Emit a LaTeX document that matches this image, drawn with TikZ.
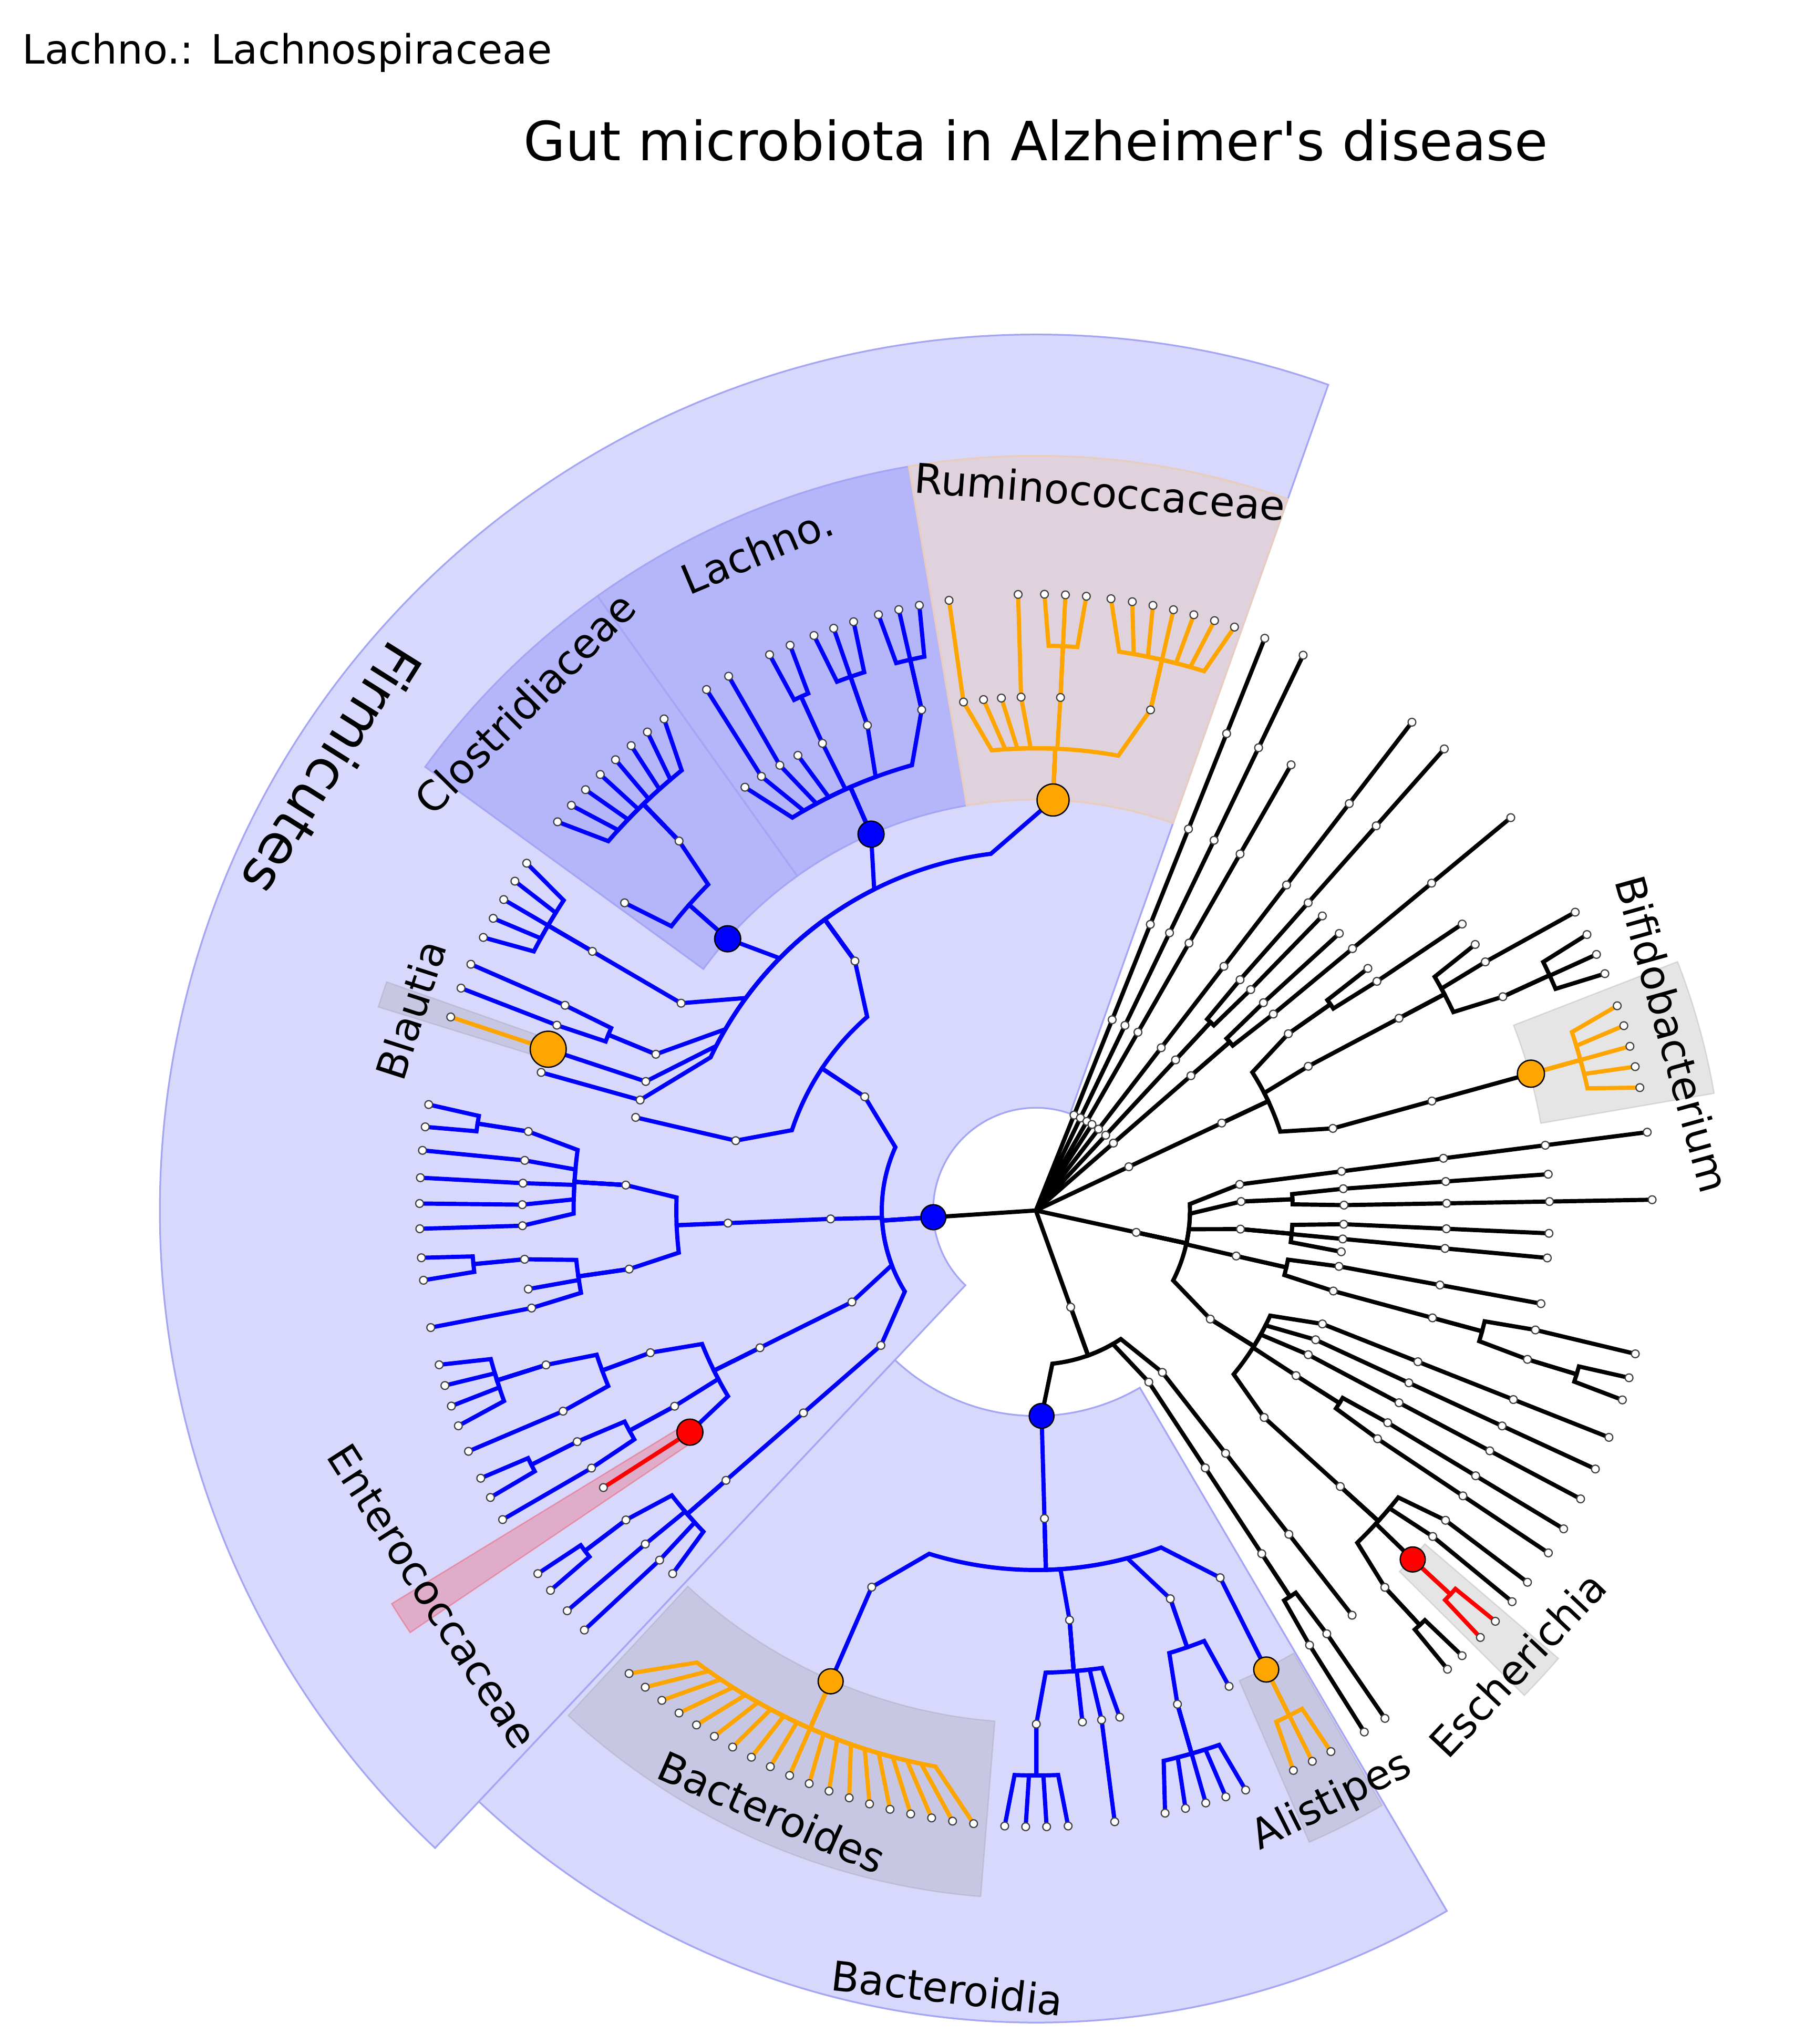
\documentclass[tikz,border=0pt]{standalone}
\usepackage{fontspec}
\setmainfont{DejaVu Sans}[Ligatures=TeXOff]
\definecolor{bl}{RGB}{0,0,255}
\definecolor{og}{RGB}{255,165,0}
\definecolor{rd}{RGB}{255,0,0}
\definecolor{wfirmc}{RGB}{216,216,252}
\definecolor{wfamc}{RGB}{181,181,250}
\definecolor{wrumc}{RGB}{224,210,220}
\definecolor{edgec}{RGB}{165,165,245}
\definecolor{edgerum}{RGB}{232,205,190}
\tikzset{
  br/.style={line width=3.2pt},
  mkr/.style={fill=white, draw=black!75, line width=0.9pt},
  wfirm/.style={fill=wfirmc, draw=edgec, line width=1.3pt},
  wfam/.style={fill=wfamc, draw=edgec, line width=1.3pt},
  wrum/.style={fill=wrumc, draw=edgerum, line width=1.3pt},
  hgrey/.style={fill=black!45, fill opacity=0.22, draw=black!45, draw opacity=0.25, line width=1pt},
  hred/.style={fill=red, fill opacity=0.2, draw=red, draw opacity=0.25, line width=1pt},
  lab/.style={font=\fontsize{31.5}{37}\selectfont, inner sep=0pt},
  biglab/.style={font=\fontsize{42.5}{50}\selectfont, inner sep=0pt}
}
% annular sector: style, a1, a2, r1, r2
\newcommand\sector[5]{\path[#1] (#2:#4) arc[start angle=#2, end angle=#3, radius=#4] -- (#3:#5) arc[start angle=#3, end angle=#2, radius=#5] -- cycle;}
% branch from parent (angle, level) to child (angle, level)
\newcommand\branchline[5]{%
  \pgfmathsetmacro\rpar{78.8*(#3)}%
  \pgfmathsetmacro\rchi{78.8*(#5)}%
  \pgfmathsetmacro\rbra{78.8*(#3)+39.4}%
  \pgfmathsetmacro\tarc{(#2)+0.75*((#4)-(#2))}%
  \pgfmathtruncatemacro\flagz{abs(\tarc-(#2))<0.02 ? 1 : 0}%
  \ifnum\flagz=1
    \draw[br,#1] (#2:\rpar) -- (#4:\rchi);
  \else
    \draw[br,#1] (#2:\rpar) -- (#2:\rbra) arc[start angle=#2, end angle=\tarc, radius=\rbra] -- (#4:\rchi);
  \fi}
\newcommand\CladeL[4]{\foreach \ang/\lv in {#4}{\branchline{#1}{#2}{#3}{\ang}{\lv}}}
\newcommand\ChainL[4]{\pgfmathsetmacro\rfrom{78.8*(#3)}\pgfmathsetmacro\rto{78.8*(#4)}\draw[br,#1] (#2:\rfrom) -- (#2:\rto);}
\newcommand\RootL[1]{\foreach \ang in {#1}{\draw[br,black] (0,0) -- (\ang:78.8);}}
\newcommand\mk[2]{\pgfmathsetmacro\rmk{78.8*(#2)}\path[mkr] (#1:\rmk) circle[radius=3.0];}
\newcommand\CladeM[4]{\foreach \ang/\lv in {#4}{\mk{\ang}{\lv}}}
\newcommand\ChainM[4]{\foreach \lv in {1,...,6}{\ifnum\lv>#3 \ifnum\lv<\numexpr#4+1\relax \mk{#2}{\lv}\fi\fi}}
\newcommand\RootM[1]{\foreach \ang in {#1}{\mk{\ang}{1}}}
\newcommand\bignode[4]{\pgfmathsetmacro\rmk{78.8*(#3)}\path[fill=#1, draw=black, line width=1pt] (#2:\rmk) circle[radius=#4];}

\newcommand\TreeData{%
\Root{68.2,64.3,60.2,56.9,52.4,47.15,41.0,25.2,-12.3,-70.2,183.75}
\Chain{black}{68.2}{1}{6}
\Chain{black}{64.3}{1}{6}
\Chain{black}{60.2}{1}{5}
\Chain{black}{52.4}{1}{6}
\Chain{black}{47.15}{1}{2}
\Clade{black}{47.15}{2}{48.5/3,45.8/3}
\Chain{black}{48.5}{3}{6}
\Chain{black}{45.8}{3}{4}
\Chain{black}{41.0}{1}{2}
\Clade{black}{41.0}{2}{42.4/3,39.6/3}
\Chain{black}{42.4}{3}{4}
\Chain{black}{39.6}{3}{6}
\Chain{black}{25.2}{1}{2}
\Clade{black}{25.2}{2}{35.0/3,27.9/3,15.45/3}
\Clade{black}{35.0}{3}{36.1/4,33.9/4}
\Chain{black}{33.9}{4}{5}
\Chain{black}{27.9}{3}{4}
\Clade{black}{27.9}{4}{31.2/5,28.95/5,24.6/5}
\Chain{black}{28.95}{5}{6}
\Clade{black}{24.6}{5}{26.6/6,24.55/6,22.6/6}
\Chain{black}{15.45}{3}{5}
\Clade{og}{15.45}{5}{19.4/6,17.45/6,15.45/6,13.5/6,11.5/6}
\Clade{black}{-12.3}{1}{7.3/2,2.5/2,-5.2/2,-12.8/2,-31.9/2}
\Chain{black}{7.3}{2}{6}
\Clade{black}{2.5}{2}{4.05/3,1.0/3}
\Chain{black}{4.05}{3}{5}
\Chain{black}{1.0}{3}{6}
\Clade{black}{-5.2}{2}{-2.55/3,-5.3/3,-7.7/3}
\Chain{black}{-2.55}{3}{5}
\Chain{black}{-5.3}{3}{5}
\Clade{black}{-12.8}{2}{-10.45/3,-15.15/3}
\Chain{black}{-10.45}{3}{5}
\Chain{black}{-15.15}{3}{4}
\Clade{black}{-15.15}{4}{-13.45/5,-16.85/5}
\Chain{black}{-13.45}{5}{6}
\Clade{black}{-16.85}{5}{-15.75/6,-17.9/6}
\Clade{black}{-31.9}{2}{-21.6/3,-24.8/3,-27.9/3,-32.4/3,-42.2/3}
\Chain{black}{-21.6}{3}{6}
\Chain{black}{-24.8}{3}{6}
\Chain{black}{-27.9}{3}{6}
\Clade{black}{-32.4}{3}{-31.1/4,-33.75/4}
\Chain{black}{-31.1}{4}{6}
\Chain{black}{-33.75}{4}{6}
\Chain{black}{-42.2}{3}{4}
\Clade{black}{-42.2}{4}{-37.1/5,-39.4/5,-42.8/5,-47.2/5}
\Chain{black}{-37.1}{5}{6}
\Chain{black}{-39.4}{5}{6}
\Clade{rd}{-42.8}{5}{-41.8/6,-43.85/6}
\Clade{black}{-47.2}{5}{-46.25/6,-48.1/6}
\Clade{black}{-70.2}{1}{-88.4/2,-56.65/2,-52.0/2}
\Chain{black}{-56.65}{2}{4}
\Clade{black}{-56.65}{4}{-55.5/5,-57.8/5}
\Chain{black}{-55.5}{5}{6}
\Chain{black}{-57.8}{5}{6}
\Chain{black}{-52.0}{2}{5}
\Chain{bl}{271.6}{2}{3}
\Clade{bl}{271.6}{3}{246.45/4,274.7/4,289.1/4,296.65/4}
\Chain{bl}{246.45}{4}{5}
\Clade{og}{246.45}{5}{228.70/6,230.67/6,232.64/6,234.62/6,236.59/6,238.56/6,240.53/6,242.51/6,244.48/6,246.45/6,248.42/6,250.39/6,252.37/6,254.34/6,256.31/6,258.28/6,260.26/6,262.23/6,264.20/6}
\Clade{bl}{274.7}{4}{270.05/5,275.2/5,277.35/5,279.4/5}
\Clade{bl}{270.05}{5}{267.1/6,269.05/6,271.0/6,273.0/6}
\Chain{bl}{277.35}{5}{6}
\Clade{bl}{289.1}{4}{286.0/5,292.1/5}
\Clade{bl}{286.0}{5}{282.1/6,284.05/6,286.0/6,287.95/6,289.9/6}
\Chain{bl}{296.65}{4}{5}
\Clade{og}{296.65}{5}{294.7/6,296.65/6,298.6/6}
\Clade{bl}{183.75}{1}{146.4/2,182.35/2,206.45/2,221.05/2}
\Clade{bl}{146.4}{2}{125.95/3,166.9/3}
\Clade{bl}{125.95}{3}{87.6/4,113.65/4,138.6/4,149.7/4,157.65/4,161.7/4,164.4/4}
\Chain{bl}{166.9}{3}{4}
\Clade{og}{87.6}{4}{98.1/5,95.85/5,93.85/5,91.65/5,87.25/5,77.1/5}
\Chain{og}{98.1}{5}{6}
\Chain{og}{91.65}{5}{6}
\Clade{og}{87.25}{5}{89.2/6,87.25/6,85.3/6}
\Clade{og}{77.1}{5}{83.0/6,81.0/6,79.05/6,77.1/6,75.15/6,73.15/6,71.2/6}
\Clade{bl}{113.65}{4}{124.5/5,122.3/5,119.9/5,117.6/5,114.55/5,109.15/5,102.85/5}
\Chain{bl}{122.3}{5}{6}
\Chain{bl}{119.9}{5}{6}
\Clade{bl}{114.55}{5}{115.6/6,113.5/6}
\Clade{bl}{109.15}{5}{111.1/6,109.15/6,107.2/6}
\Clade{bl}{102.85}{5}{104.8/6,102.85/6,100.9/6}
\Clade{bl}{138.6}{4}{134.0/5,143.2/5}
\Clade{bl}{134.0}{5}{127.1/6,129.07/6,131.04/6,133.0/6,134.97/6,136.94/6,138.9/6,140.9/6}
\Chain{bl}{149.7}{4}{5}
\Clade{bl}{149.7}{5}{145.7/6,147.7/6,149.7/6,151.7/6,153.7/6}
\Clade{bl}{157.65}{4}{156.45/5,158.85/5}
\Chain{bl}{156.45}{5}{6}
\Chain{bl}{158.85}{5}{6}
\Chain{bl}{161.7}{4}{5}
\Chain{og}{161.7}{5}{6}
\Chain{bl}{164.4}{4}{5}
\Chain{bl}{182.35}{2}{3}
\Clade{bl}{182.35}{3}{176.45/4,188.2/4}
\Clade{bl}{176.45}{4}{171.15/5,174.4/5,176.95/5,179.35/5,181.7/5}
\Clade{bl}{171.15}{5}{170.1/6,172.2/6}
\Chain{bl}{174.4}{5}{6}
\Chain{bl}{176.95}{5}{6}
\Chain{bl}{179.35}{5}{6}
\Chain{bl}{181.7}{5}{6}
\Clade{bl}{188.2}{4}{185.45/5,188.8/5,190.95/5}
\Clade{bl}{185.45}{5}{184.4/6,186.5/6}
\Chain{bl}{190.95}{5}{6}
\Chain{bl}{206.45}{2}{3}
\Clade{bl}{206.45}{3}{200.25/4,208.45/4,212.65/4}
\Clade{bl}{200.25}{4}{197.5/5,203.0/5}
\Clade{bl}{197.5}{5}{194.5/6,196.5/6,198.5/6,200.45/6}
\Chain{bl}{203.0}{5}{6}
\Clade{bl}{208.45}{4}{206.75/5,210.1/5}
\Clade{bl}{206.75}{5}{205.75/6,207.75/6}
\Chain{bl}{210.1}{5}{6}
\Chain{rd}{212.65}{4}{5}
\Chain{bl}{221.05}{2}{4}
\Clade{bl}{221.05}{4}{217.05/5,220.5/5,222.9/5,225.0/5}
\Clade{bl}{217.05}{5}{216.1/6,218.05/6}
\Chain{bl}{220.5}{5}{6}
\Chain{bl}{222.9}{5}{6}
}

\begin{document}
\begin{tikzpicture}[x=1pt,y=1pt]
\fill[white] (-794.6,-639.4) rectangle (597.4,928.6);
\useasboundingbox (-794.6,-639.4) rectangle (597.4,928.6);
% background wedges
\sector{wfirm}{70.5}{226.7}{78.8}{672}
\sector{wfirm}{226.7}{300.4}{157.6}{623}
\sector{wfam}{125.5}{144.0}{315.2}{579}
\sector{wfam}{99.7}{125.5}{315.2}{579}
\sector{wrum}{70.5}{99.7}{315.2}{579}
% highlights
\sector{hgrey}{160.6}{162.8}{393}{528}
\sector{hgrey}{227.2}{265.4}{393}{528}
\sector{hgrey}{293.4}{300.2}{393}{528}
\sector{hgrey}{9.8}{21.2}{393}{528}
\sector{hgrey}{315.2}{319.4}{393}{528}
\sector{hred}{211.4}{214.0}{315.2}{579}
% tree lines
\let\Clade\CladeL \let\Chain\ChainL \let\Root\RootL
\TreeData
% node markers
\let\Clade\CladeM \let\Chain\ChainM \let\Root\RootM
\TreeData
% highlighted clade nodes
\bignode{bl}{183.75}{1}{9.6}
\bignode{bl}{271.6}{2}{9.5}
\bignode{bl}{138.6}{4}{10}
\bignode{bl}{113.65}{4}{10}
\bignode{og}{87.6}{4}{12.3}
\bignode{og}{161.7}{5}{13.8}
\bignode{rd}{212.65}{4}{10}
\bignode{og}{246.45}{5}{9.6}
\bignode{og}{296.65}{5}{9.6}
\bignode{og}{15.45}{5}{10.4}
\bignode{rd}{-42.8}{5}{9.6}
% labels
\node[lab, rotate=-4.4] (lrum) at (84.9:553.8) {Ruminococcaceae};
\node[lab, rotate=22.9] (llac) at (112.9:549.8) {Lachno.};
\node[lab, rotate=45.2] (lclo) at (135.2:552.5) {Clostridiaceae};
\node[biglab, rotate=-122.1] (lfir) at (147.9:637) {Firmicutes};
\node[lab, rotate=72.2] (lbla) at (162.2:503.6) {Blautia};
\node[lab, rotate=-57.4] (lent) at (212.6:549.4) {Enterococcaceae};
\node[lab, rotate=-23.7] (lbac) at (246.3:503.9) {Bacteroides};
\node[lab, rotate=26.6] (lali) at (296.6:507.3) {Alistipes};
\node[lab, rotate=46.7] (lesc) at (316.7:507.7) {Escherichia};
\node[lab, rotate=-74.5] (lbif) at (15.5:506.9) {Bifidobacterium};
\node[lab, rotate=-6.5] (lbcd) at (263.5:600.2) {Bacteroidia};
\node[font=\fontsize{41.5}{50}\selectfont, anchor=base, inner sep=0pt] (title) at (-0.1,805.6) {Gut microbiota in Alzheimer's disease};
\node[font=\fontsize{31}{37}\selectfont, anchor=base west, inner sep=0pt] (legend) at (-777.6,879.6) {Lachno.: Lachnospiraceae};
\end{tikzpicture}
\end{document}
